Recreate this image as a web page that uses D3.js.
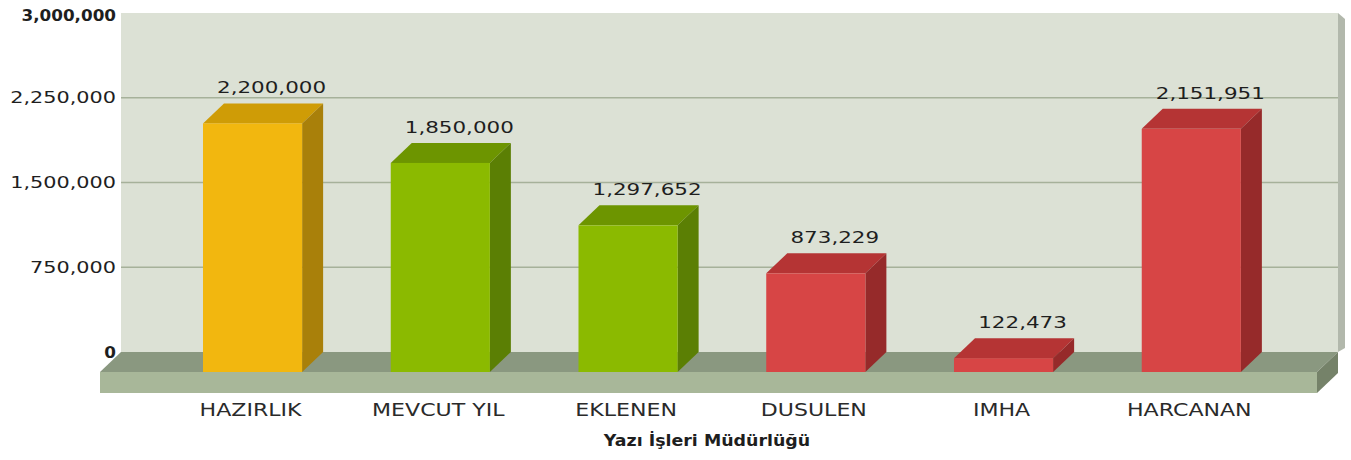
<!DOCTYPE html>
<html>
<head>
<meta charset="utf-8">
<script src="https://cdn.jsdelivr.net/npm/d3@7"></script>
<style>
  body { margin: 0; background: #fff; }
  svg { display: block; font-family: "DejaVu Sans", Verdana, sans-serif; }
</style>
</head>
<body>
<svg id="chart" width="1351" height="460"></svg>
<script>
'use strict'
// data
var categories = ['HAZIRLIK', 'MEVCUT YIL', 'EKLENEN', 'DUSULEN', 'IMHA', 'HARCANAN']
var values = [2200000, 1850000, 1297652, 873229, 122473, 2151951]
var colorKeys = ['yellow', 'green', 'green', 'red', 'red', 'red']
var tickValues = [0, 750000, 1500000, 2250000, 3000000]
var axisTitle = 'Yazı İşleri Müdürlüğü'

// colours for each face of a 3d bar
var palette = {
  yellow: {front: '#f2b70f', side: '#a9800a', top: '#cf9c06'},
  green: {front: '#8bba00', side: '#5b7f04', top: '#6d9500'},
  red: {front: '#d74545', side: '#962a2a', top: '#b53434'}
}

var svg = d3.select('#chart')
var dx = 21, dy = 20          // depth offset (front is left/down of back)
var wallL = 121, wallR = 1338, wallT = 13, wallB = 352
var wide = 'scale(1.3,1)'     // the original text looks stretched sideways

var y = d3.scaleLinear().domain([0, 3000000]).range([wallB, wallT])
// front faces of bars
var x = d3.scaleBand().domain(categories)
  .range([wallL - dx, wallR - dx])
  .paddingInner(0.472).paddingOuter(0.477).align(0.575)

// back wall
svg.append('rect')
  .attr('x', wallL).attr('y', wallT)
  .attr('width', wallR - wallL).attr('height', wallB - wallT)
  .attr('fill', '#dce1d5')
// right edge of the wall
svg.append('path')
  .attr('d', `M${wallR},${wallT} L${wallR + 7},${wallT + 6} L${wallR + 7},${wallB - 4} L${wallR},${wallB}Z`)
  .attr('fill', '#b2b8ac')

// gridlines
svg.append('g').selectAll('line')
  .data(tickValues.filter(d => d > 0 && d < 3000000))
  .join('line')
  .attr('x1', wallL).attr('x2', wallR)
  .attr('y1', d => y(d)).attr('y2', d => y(d))
  .attr('stroke', '#a6b19a').attr('stroke-width', 1.5)

// floor
var fl = wallL - dx, fr = wallR - dx, floorTh = 21
svg.append('path')
  .attr('d', `M${wallL},${wallB} L${wallR},${wallB} L${fr},${wallB + dy} L${fl},${wallB + dy}Z`)
  .attr('fill', '#8a9880')
svg.append('rect')
  .attr('x', fl).attr('y', wallB + dy)
  .attr('width', fr - fl).attr('height', floorTh)
  .attr('fill', '#a8b799')
svg.append('path')
  .attr('d', `M${fr},${wallB + dy} L${wallR},${wallB} L${wallR},${wallB + floorTh} L${fr},${wallB + dy + floorTh}Z`)
  .attr('fill', '#758269')

// y axis labels
var yAxis = d3.axisLeft(y).tickValues(tickValues).tickSize(0).tickPadding(0)
  .tickFormat(d3.format(','))
var ya = svg.append('g').attr('transform', `translate(${wallL - 5},0)`).call(yAxis)
ya.select('.domain').remove()
ya.selectAll('text')
  .attr('font-family', '"DejaVu Sans", Verdana, sans-serif')
  .attr('font-size', 16).attr('fill', '#1e1e1e')
  .attr('font-weight', d => (d === 0 || d === 3000000) ? 'bold' : 'normal')
  .attr('transform', d => (d === 0 || d === 3000000) ? 'scale(1.05,1)' : wide)
  .attr('dy', d => d === 3000000 ? '0.45em' : '0.32em')

// bars
var bars = svg.append('g').selectAll('g')
  .data(categories.map((c, i) => ({c: c, v: values[i], k: colorKeys[i]})))
  .join('g')
var bw = x.bandwidth()
var base = wallB + dy
bars.append('path')
  .attr('d', d => {
    var x0 = x(d.c), t = y(d.v) + dy
    return `M${x0},${t} L${x0 + dx},${t - dy} L${x0 + bw + dx},${t - dy} L${x0 + bw},${t}Z`
  })
  .attr('fill', d => palette[d.k].top)
bars.append('path')
  .attr('d', d => {
    var x1 = x(d.c) + bw, t = y(d.v) + dy
    return `M${x1},${t} L${x1 + dx},${t - dy} L${x1 + dx},${base - dy} L${x1},${base}Z`
  })
  .attr('fill', d => palette[d.k].side)
bars.append('rect')
  .attr('x', d => x(d.c)).attr('y', d => y(d.v) + dy)
  .attr('width', bw).attr('height', d => base - y(d.v) - dy)
  .attr('fill', d => palette[d.k].front)

// value labels
bars.append('text')
  .attr('transform', d => `translate(${x(d.c) + bw / 2 + dx - 2},${y(d.v) - 10}) ${wide}`)
  .attr('text-anchor', 'middle')
  .attr('font-size', 16.5).attr('fill', '#1e1e1e')
  .text(d => d3.format(',')(d.v))

// category labels
var xa = svg.append('g').attr('transform', `translate(-2,${base + floorTh})`)
  .call(d3.axisBottom(x).tickSize(0).tickPadding(0))
xa.select('.domain').remove()
xa.selectAll('text')
  .attr('font-family', '"DejaVu Sans", Verdana, sans-serif')
  .attr('font-size', 17).attr('fill', '#2a2a2a')
  .attr('y', 23).attr('dy', 0)
  .attr('transform', wide)

// axis title
svg.append('text')
  .attr('transform', `translate(707,446) scale(1.16,1)`)
  .attr('text-anchor', 'middle')
  .attr('font-size', 15).attr('font-weight', 'bold').attr('fill', '#1e1e1e')
  .text(axisTitle)
</script>
</body>
</html>
